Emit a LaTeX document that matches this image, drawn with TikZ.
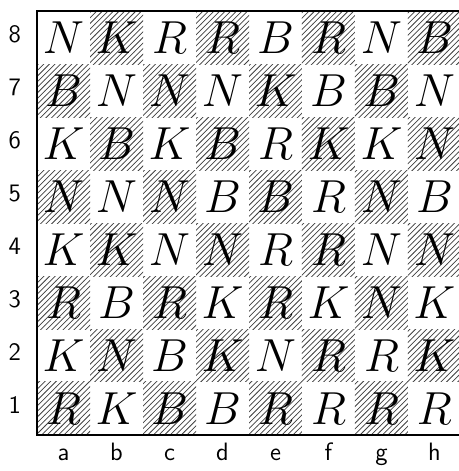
\documentclass[tikz,border=0pt]{standalone}
\usepackage{tikz}
\usepackage{xcolor}
\usetikzlibrary{patterns, positioning}
\definecolor{cHatch}{HTML}{404040}
\definecolor{cFrame}{HTML}{000000}

\begin{document}
\begin{tikzpicture}[x=1cm, y=1cm]
  \useasboundingbox (-0.70,-0.68) rectangle (7.96,8.21);
  \tikzset{
    sqbox/.style={minimum size=1cm, inner sep=0pt, outer sep=0pt,
                  font=\fontsize{37}{37}\selectfont},
    darksq/.style={pattern=north east lines, pattern color=cHatch},
    coordlbl/.style={font=\sffamily\fontsize{13.5}{13.5}\selectfont,
                     text height=1.6ex, text depth=0.3ex},
  }
  % squares with pieces, rank by rank
  \foreach \rank/\row in {8/{N,K,R,R,B,R,N,B}, 7/{B,N,N,N,K,B,B,N},
                          6/{K,B,K,B,R,K,K,N}, 5/{N,N,N,B,B,R,N,B},
                          4/{K,K,N,N,R,R,N,N}, 3/{R,B,R,K,R,K,N,K},
                          2/{K,N,B,K,N,R,R,K}, 1/{R,K,B,B,R,R,R,R}} {
    \foreach \p [count=\f] in \row {
      \ifodd\numexpr\f+\rank\relax
        \node[sqbox] (sq-\f-\rank) at (\f-0.5, \rank-0.5) {$\p$};
      \else
        \node[sqbox, darksq] (sq-\f-\rank) at (\f-0.5, \rank-0.5) {$\p$};
      \fi
    }
  }
  % coordinates
  \foreach \rank in {1,...,8}
    \node[coordlbl] (rk-\rank) at (-0.42, \rank-0.5) {\rank};
  \foreach \file [count=\f] in {a,b,c,d,e,f,g,h}
    \node[coordlbl] (fl-\file) at (\f-0.5, -0.38) {\file};
  % frame
  \draw[line width=1pt, draw=cFrame] (sq-8-1.south east) -- (sq-1-1.south west)
        -- (sq-1-8.north west) -- (sq-8-8.north east);
\end{tikzpicture}
\end{document}
